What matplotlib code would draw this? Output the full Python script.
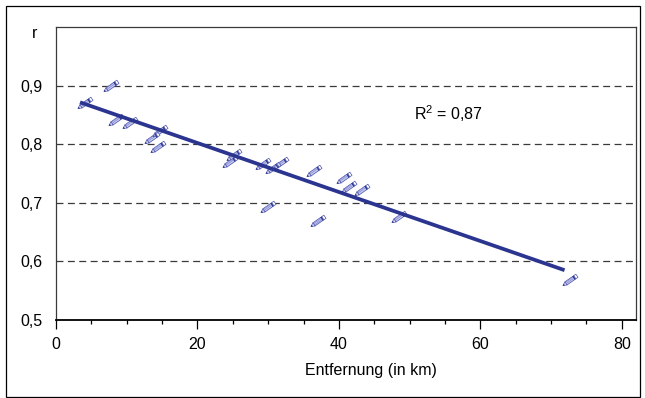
import numpy as np
import matplotlib
matplotlib.use("Agg")
import matplotlib.pyplot as plt
from matplotlib.path import Path
from matplotlib.collections import PathCollection
from matplotlib.transforms import IdentityTransform
from matplotlib.patches import Rectangle

plt.rcParams['font.family'] = ['Liberation Sans', 'DejaVu Sans']
plt.rcParams['lines.scale_dashes'] = False

# ---- data ----
distance_km = [3.4, 7.0, 7.75, 9.7, 12.9, 14.0, 13.7, 23.9, 24.5, 28.5,
               30.0, 31.1, 29.2, 35.8, 40.0, 40.7, 42.5, 36.4, 47.8, 72.0]
r_values = [0.865, 0.894, 0.836, 0.831, 0.806, 0.818, 0.790, 0.765, 0.777, 0.761,
            0.754, 0.763, 0.687, 0.750, 0.738, 0.721, 0.717, 0.663, 0.671, 0.563]
trend_x = [3.4, 71.9]
trend_y = [0.8715, 0.585]
r2_label = "R$^{\\mathregular{2}}$ = 0,87"
x_ticks = [0, 20, 40, 60, 80]
y_ticks = [0.5, 0.6, 0.7, 0.8, 0.9]
y_ticklabels = ["0,5", "0,6", "0,7", "0,8", "0,9"]
x_label = "Entfernung (in km)"
y_label = "r"

W, H = 645, 398
fig = plt.figure(figsize=(W / 100, H / 100), dpi=100)
ax = fig.add_axes([56 / W, 78 / H, 580 / W, 293 / H])
ax.set_xlim(0, 82)
ax.set_ylim(0.5, 1.0)

# grid lines
for yv in y_ticks[1:]:
    ax.axhline(yv, color='#3a3a3a', lw=0.9, ls=(0, (5.0, 3.2)), zorder=1)

# trend line
ax.plot(trend_x, trend_y, color='#2b3590', lw=2.7, solid_capstyle='butt', zorder=4)

# ---- pencil markers ----
L, w = 17.0, 3.8
theta = np.deg2rad(35)
c, s = np.cos(theta), np.sin(theta)
off = np.array([-2.5, -2.0])

def mk(pts, closed=True):
    pts = np.asarray(pts, float)
    rot = np.column_stack([pts[:, 0] * c - pts[:, 1] * s, pts[:, 0] * s + pts[:, 1] * c]) + off
    if closed:
        rot = np.vstack([rot, rot[:1]])
        codes = [Path.MOVETO] + [Path.LINETO] * (len(rot) - 2) + [Path.CLOSEPOLY]
    else:
        codes = [Path.MOVETO] + [Path.LINETO] * (len(rot) - 1)
    return Path(rot, codes)

h = w / 2
parts = [
    (mk([(3.6, -h), (13.2, -h), (13.2, h), (3.6, h)]), '#c3c7ee', '#4a51aa', 0.5),
    (mk([(0, 0), (3.6, h), (3.6, -h)]), '#eceef9', '#4a51aa', 0.5),
    (mk([(0, 0), (1.4, 0.75), (1.4, -0.75)]), '#2b3590', '#2b3590', 0.3),
    (mk([(13.2, -h), (14.4, -h), (14.4, h), (13.2, h)]), '#2b3590', '#2b3590', 0.4),
    (mk([(14.4, -h), (L, -h), (L, h), (14.4, h)]), 'white', '#4a51aa', 0.5),
]
stripes = [mk([(3.8, v), (13.0, v)], closed=False) for v in (-0.7, 0.7)]

offsets = np.column_stack([distance_km, r_values])
for path, fc, ec, lw in parts:
    coll = PathCollection([path], offsets=offsets, offset_transform=ax.transData,
                          transform=IdentityTransform(), facecolors=fc,
                          edgecolors=ec, linewidths=lw, zorder=3)
    ax.add_collection(coll, autolim=False)
for sp in stripes:
    coll = PathCollection([sp], offsets=offsets, offset_transform=ax.transData,
                          transform=IdentityTransform(), facecolors='none',
                          edgecolors='#7c83cc', linewidths=0.4, zorder=3)
    ax.add_collection(coll, autolim=False)

# R^2 text
ax.text(50.6, 0.842, r2_label, fontsize=11.5, color='black', va='baseline', ha='left')

# axes styling
ax.set_xticks(x_ticks)
ax.set_xticks(np.arange(0, 81, 5), minor=True)
ax.set_yticks(y_ticks)
ax.set_yticklabels(y_ticklabels)
ax.tick_params(axis='x', which='major', length=6.5, width=0.9, pad=5.5, labelsize=11.5)
ax.tick_params(axis='x', which='minor', length=3, width=0.9)
ax.tick_params(axis='y', which='both', length=0, pad=9.5, labelsize=11.5)
for side in ['top', 'right', 'left']:
    ax.spines[side].set_color('#3a3a3a')
    ax.spines[side].set_linewidth(0.9)
ax.spines['bottom'].set_color('black')
ax.spines['bottom'].set_linewidth(1.3)

fig.text(371 / W, 1 - 371 / H, x_label, fontsize=11.5, ha='center', va='center')
fig.text(34.5 / W, 1 - 34 / H, y_label, fontsize=11.5, ha='center', va='center')

# outer frame
fig.add_artist(Rectangle((6 / W, 1.5 / H), 634 / W, 390.5 / H, fill=False,
                         edgecolor='black', lw=0.9, transform=fig.transFigure))

fig.savefig('out.png', dpi=100)
